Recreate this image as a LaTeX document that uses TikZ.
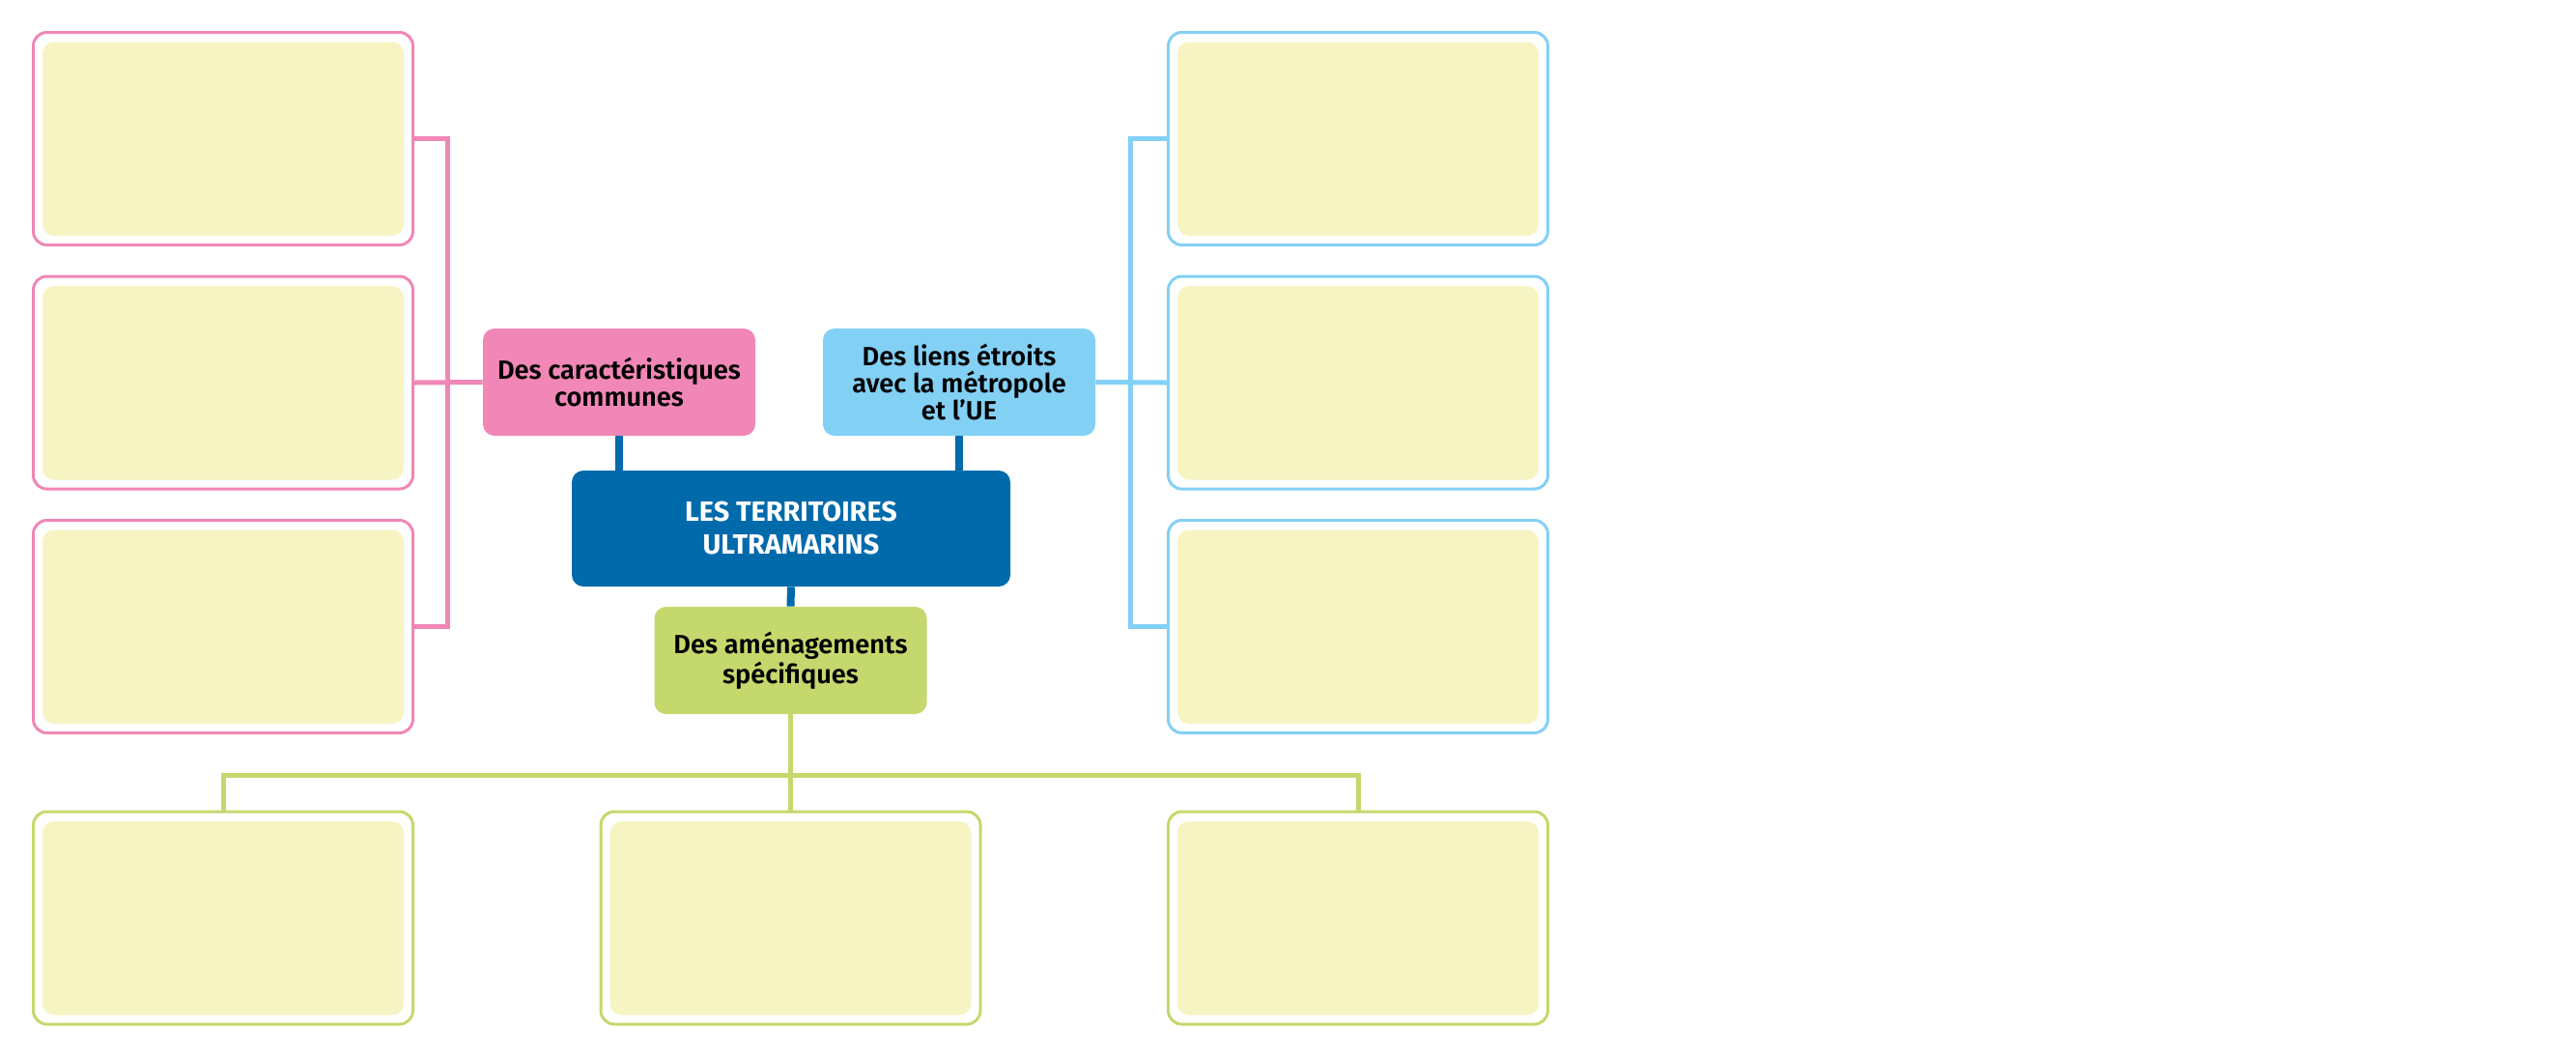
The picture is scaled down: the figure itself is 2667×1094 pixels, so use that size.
\documentclass[tikz,border=0pt]{standalone}
\usepackage{fontspec}
\setmainfont{Fira Sans}
\newfontfamily\topicfont{Fira Sans SemiBold}
\usepackage{tikz}
\usetikzlibrary{positioning}
\definecolor{pinkc}{HTML}{F087B6}
\definecolor{skyc}{HTML}{83D0F5}
\definecolor{navyc}{HTML}{006AAB}
\definecolor{limec}{HTML}{C5D86D}
\definecolor{cream}{HTML}{F7F4C3}
\tikzset{node distance=126.25pt,
	topic/.style={
		fill=#1,
		rounded corners=6pt,
		minimum width=141pt,
		minimum height=55.5pt,
		inner sep=0pt,
		align=center,
		font=\topicfont\fontsize{13.6}{14}\selectfont},
	answer/.style={
		draw=#1,
		fill=white,
		line width=1.5pt,
		rounded corners=7pt,
		minimum width=196.5pt,
		minimum height=110pt,
		inner sep=0pt,
		path picture={\fill[cream, rounded corners=6pt]
			([shift={(4.75pt,-5pt)}]path picture bounding box.north west) rectangle
			([shift={(-4.75pt,4.75pt)}]path picture bounding box.south east);}},
	bus/.style={draw=#1, line width=2.5pt},
	link/.style={draw=navyc, line width=4pt}
}
\begin{document}
\begin{tikzpicture}[x=0.5pt,y=-0.5pt]
	\useasboundingbox (0,0) rectangle (2667,1094);
	% centre et themes
	\node[topic=navyc, minimum width=227pt, minimum height=60pt, text=white,
		font=\bfseries\fontsize{14.4}{17}\selectfont] (C) at (819,547) {LES TERRITOIRES\\ULTRAMARINS};
	\node[topic=pinkc] (T1) at (641,395.5) {Des caractéristiques\\communes};
	\node[topic=skyc] (T2) at (993,395.5) {Des liens étroits\\avec la métropole\\et l’UE};
	\node[topic=limec] (T3) at (818.5,683.5) {Des aménagements\\spécifiques};
	% cases a remplir
	\node[answer=pinkc] (P1) at (231,143.5) {};
	\node[answer=pinkc, below of=P1] (P2) {};
	\node[answer=pinkc, below of=P2] (P3) {};
	\node[answer=skyc] (B1) at (1406,143.5) {};
	\node[answer=skyc, below of=B1] (B2) {};
	\node[answer=skyc, below of=B2] (B3) {};
	\node[answer=limec] (G1) at (231,950) {};
	\node[answer=limec, node distance=293.75pt, right of=G1] (G2) {};
	\node[answer=limec, node distance=293.75pt, right of=G2] (G3) {};
	\coordinate (gbus) at (818.5,802.5);
	% liaisons
	\draw[link] (T1.south) -- (T1.south |- C.north);
	\draw[link] (T2.south) -- (T2.south |- C.north);
	\draw[link] (C.south) -- (T3.north);
	\draw[bus=pinkc] (P1.east) -- ++(17pt,0) |- (P3.east);
	\draw[bus=pinkc] (T1.west) -- (P2.east);
	\draw[bus=skyc] (B1.west) -- ++(-18.75pt,0) |- (B3.west);
	\draw[bus=skyc] (T2.east) -- (B2.west);
	\draw[bus=limec] (T3.south) -- (gbus);
	\draw[bus=limec] (G1.north) |- (gbus) -| (G3.north);
	\draw[bus=limec] (gbus) -- (G2.north);
\end{tikzpicture}
\end{document}
